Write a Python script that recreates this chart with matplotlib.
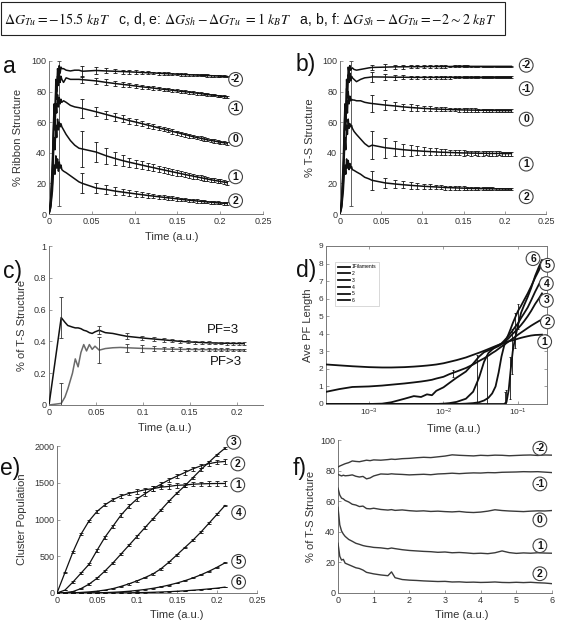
import numpy as np
import matplotlib
matplotlib.use("Agg")
import matplotlib.pyplot as plt
from matplotlib.patches import Rectangle

plt.rcParams['font.family'] = ['Liberation Sans', 'DejaVu Sans']
plt.rcParams['mathtext.fontset'] = 'stix'

W, H = 566, 621

# ---------------- panel a / b data ----------------
# early transient times and error-bar sample times
AB_T_EARLY = [0, 0.002, 0.004, 0.005, 0.006, 0.007, 0.008, 0.009, 0.010, 0.011,
              0.012, 0.013, 0.014, 0.015, 0.017, 0.020, 0.025, 0.030, 0.035]
AB_T_BAR = [0.039, 0.055, 0.067, 0.077, 0.086, 0.094, 0.102, 0.109, 0.116, 0.122,
            0.128, 0.134, 0.139, 0.144, 0.150, 0.154, 0.159, 0.164, 0.168, 0.173,
            0.177, 0.181, 0.185, 0.189, 0.193, 0.197, 0.200, 0.204, 0.208]
AB_LABELS = ['-2', '-1', '0', '1', '2']

A_EARLY_M2 = [0, 10, 35, 55, 72, 65, 88, 80, 95, 90, 97, 92, 96, 95, 95, 94, 93.5, 94, 94]
A_EARLY_M1 = [0, 8, 30, 50, 68, 60, 82, 75, 90, 84, 92, 86, 90, 88, 86, 89, 88, 88, 88]
A_EARLY_0 = [0, 6, 25, 45, 62, 55, 72, 66, 78, 70, 76, 72, 75, 73, 74, 73, 71, 70, 69.5]
A_EARLY_1 = [0, 5, 20, 35, 50, 42, 58, 50, 62, 55, 60, 57, 59, 57, 55, 52, 48, 45, 43]
A_EARLY_2 = [0, 4, 15, 25, 32, 26, 38, 30, 36, 28, 34, 30, 32, 29, 28, 27, 25, 23, 21]

A_M2 = [93.3, 93.8, 93.5, 93.3, 93.1, 92.9, 92.7, 92.5, 92.3, 92.2, 92.0, 91.8, 91.7, 91.5, 91.4,
        91.2, 91.1, 91.0, 90.9, 90.8, 90.7, 90.6, 90.5, 90.4, 90.3, 90.2, 90.1, 90.0, 89.9]
A_M1 = [87.8, 87.0, 86.0, 85.3, 84.7, 84.2, 83.6, 83.1, 82.7, 82.3, 81.9, 81.5, 81.2, 80.9, 80.5,
        80.2, 79.9, 79.6, 79.3, 79.0, 78.7, 78.4, 78.1, 77.8, 77.6, 77.3, 77.0, 76.8, 76.5]
A_0 = [69.0, 66.8, 65.0, 63.5, 62.2, 61.0, 60.0, 59.0, 58.0, 57.2, 56.3, 55.5, 54.8, 54.0, 53.2,
       52.6, 51.9, 51.2, 50.6, 50.0, 49.5, 49.0, 48.5, 48.1, 47.7, 47.3, 46.9, 46.6, 46.3]
A_1 = [42.5, 40.5, 38.0, 36.3, 34.9, 33.8, 32.8, 31.9, 31.0, 30.3, 29.5, 28.8, 28.2, 27.6, 26.9,
       26.4, 25.8, 25.2, 24.8, 24.2, 23.8, 23.3, 22.9, 22.4, 22.0, 21.6, 21.3, 20.9, 20.5]
A_2 = [20.0, 17.0, 16.0, 15.0, 14.3, 13.7, 13.1, 12.6, 12.1, 11.7, 11.3, 10.9, 10.6, 10.3, 9.9,
       9.6, 9.3, 9.0, 8.8, 8.5, 8.3, 8.1, 7.9, 7.7, 7.5, 7.3, 7.2, 7.0, 6.9]

A_ERR_M2 = [3.5, 2.0, 1.6, 1.4, 1.3, 1.2, 1.1, 1.0, 1.0, 0.9, 0.9, 0.9, 0.8, 0.8, 0.8,
            0.8, 0.8, 0.7, 0.7, 0.7, 0.7, 0.7, 0.7, 0.7, 0.6, 0.6, 0.6, 0.6, 0.6]
A_ERR_M1 = [2.5, 2.2, 2.0, 1.8, 1.6, 1.5, 1.4, 1.3, 1.2, 1.2, 1.1, 1.1, 1.0, 1.0, 1.0,
            1.0, 0.9, 0.9, 0.9, 0.9, 0.9, 0.8, 0.8, 0.8, 0.8, 0.8, 0.8, 0.8, 0.8]
A_ERR_0 = [6.0, 3.0, 2.6, 2.4, 2.2, 2.0, 1.9, 1.8, 1.7, 1.6, 1.5, 1.5, 1.4, 1.4, 1.3,
           1.3, 1.3, 1.2, 1.2, 1.2, 1.2, 1.1, 1.1, 1.1, 1.1, 1.1, 1.0, 1.0, 1.0]
A_ERR_1 = [12.0, 6.5, 5.0, 4.0, 3.5, 3.0, 2.8, 2.6, 2.4, 2.2, 2.1, 2.0, 1.9, 1.8, 1.8,
           1.7, 1.7, 1.6, 1.6, 1.5, 1.5, 1.5, 1.4, 1.4, 1.4, 1.4, 1.3, 1.3, 1.3]
A_ERR_2 = [6.5, 3.5, 3.0, 2.5, 2.2, 2.0, 1.8, 1.7, 1.6, 1.5, 1.4, 1.3, 1.3, 1.2, 1.2,
           1.1, 1.1, 1.0, 1.0, 1.0, 1.0, 0.9, 0.9, 0.9, 0.9, 0.9, 0.8, 0.8, 0.8]
A_LABEL_X = 0.218
A_LABEL_Y = [88, 69.3, 48.7, 24.3, 8.7]

B_EARLY_M2 = [0, 10, 35, 55, 72, 65, 88, 80, 96, 92, 97, 94, 95, 95.5, 94.5, 94, 94.5, 95, 95.5]
B_EARLY_M1 = [0, 8, 30, 50, 68, 60, 82, 76, 91, 86, 92, 87, 90, 89, 88, 86.5, 88, 89, 89.3]
B_EARLY_0 = [0, 6, 25, 45, 62, 55, 74, 66, 80, 72, 77, 74, 75, 74.5, 74.5, 74, 74, 73, 72.5]
B_EARLY_1 = [0, 5, 20, 35, 50, 42, 58, 52, 62, 56, 59, 57, 58, 56, 54, 52, 49, 46, 44]
B_EARLY_2 = [0, 4, 15, 25, 32, 26, 36, 30, 35, 29, 33, 30, 31, 29, 28.5, 27.5, 26, 24, 23]

B_M2 = [95.8, 96.0, 96.2, 96.2, 96.3, 96.3, 96.3, 96.4, 96.4, 96.4, 96.4, 96.4, 96.5, 96.5, 96.5,
        96.5, 96.5, 96.5, 96.5, 96.5, 96.5, 96.5, 96.5, 96.5, 96.5, 96.5, 96.5, 96.5, 96.5]
B_M1 = [89.6, 89.5, 89.4, 89.4, 89.3, 89.3, 89.3, 89.3, 89.3, 89.3, 89.3, 89.3, 89.3, 89.3, 89.3,
        89.3, 89.3, 89.3, 89.3, 89.3, 89.3, 89.3, 89.3, 89.3, 89.3, 89.3, 89.3, 89.3, 89.3]
B_0 = [72.2, 71.2, 70.6, 70.0, 69.6, 69.3, 69.0, 68.8, 68.6, 68.5, 68.4, 68.3, 68.2, 68.1, 68.0,
       68.0, 67.9, 67.9, 67.8, 67.8, 67.8, 67.7, 67.7, 67.7, 67.6, 67.6, 67.6, 67.6, 67.5]
B_1 = [45.0, 43.3, 42.6, 42.0, 41.6, 41.3, 41.0, 40.8, 40.6, 40.4, 40.3, 40.2, 40.1, 40.0, 39.9,
       39.9, 39.8, 39.8, 39.7, 39.7, 39.7, 39.6, 39.6, 39.6, 39.6, 39.5, 39.5, 39.5, 39.5]
B_2 = [22.0, 20.3, 19.6, 19.1, 18.7, 18.4, 18.1, 17.9, 17.7, 17.5, 17.3, 17.2, 17.1, 17.0, 16.9,
       16.8, 16.7, 16.7, 16.6, 16.6, 16.5, 16.5, 16.5, 16.4, 16.4, 16.4, 16.3, 16.3, 16.3]

B_ERR_M2 = [1.5, 2.2, 1.5, 1.2, 1.0, 0.9, 0.8, 0.8, 0.7, 0.7, 0.7, 0.6, 0.6, 0.6, 0.6,
            0.6, 0.5, 0.5, 0.5, 0.5, 0.5, 0.5, 0.5, 0.5, 0.5, 0.5, 0.5, 0.5, 0.5]
B_ERR_M1 = [3.3, 1.8, 1.5, 1.3, 1.2, 1.1, 1.0, 0.9, 0.9, 0.8, 0.8, 0.8, 0.7, 0.7, 0.7,
            0.7, 0.7, 0.6, 0.6, 0.6, 0.6, 0.6, 0.6, 0.6, 0.6, 0.6, 0.6, 0.6, 0.6]
B_ERR_0 = [5.4, 3.0, 2.5, 2.2, 2.0, 1.8, 1.6, 1.5, 1.4, 1.3, 1.3, 1.2, 1.2, 1.2, 1.1,
           1.1, 1.1, 1.1, 1.0, 1.0, 1.0, 1.0, 1.0, 1.0, 1.0, 1.0, 1.0, 1.0, 1.0]
B_ERR_1 = [9.2, 6.5, 5.0, 4.0, 3.4, 3.0, 2.7, 2.5, 2.3, 2.1, 2.0, 1.9, 1.8, 1.7, 1.7,
           1.6, 1.6, 1.5, 1.5, 1.5, 1.4, 1.4, 1.4, 1.4, 1.3, 1.3, 1.3, 1.3, 1.3]
B_ERR_2 = [6.0, 3.5, 2.8, 2.4, 2.1, 1.9, 1.7, 1.6, 1.5, 1.4, 1.3, 1.3, 1.2, 1.2, 1.1,
           1.1, 1.1, 1.0, 1.0, 1.0, 1.0, 1.0, 0.9, 0.9, 0.9, 0.9, 0.9, 0.9, 0.9]
B_LABEL_X = 0.226
B_LABEL_Y = [97.2, 82, 62, 32.6, 11.3]

# large error bar on the early peak (time, centre, half width)
PEAK_BAR_A = (0.0117, 52.5, 47.5)
PEAK_BAR_B = (0.0133, 52.5, 47.5)

# ---------------- panel c ----------------
C_T = [0, 0.013, 0.017, 0.02, 0.025, 0.028, 0.031, 0.034, 0.037, 0.04, 0.043, 0.046, 0.049,
       0.0535, 0.06, 0.068, 0.076, 0.083, 0.091, 0.099, 0.106, 0.112, 0.122, 0.131, 0.14,
       0.148, 0.156, 0.163, 0.17, 0.177, 0.183, 0.19, 0.196, 0.202, 0.208]
C_PF3 = [0, 0.55, 0.52, 0.50, 0.49, 0.485, 0.485, 0.48, 0.47, 0.465, 0.455, 0.45, 0.46, 0.47,
         0.455, 0.45, 0.44, 0.432, 0.427, 0.422, 0.418, 0.415, 0.41, 0.405, 0.40, 0.397, 0.395,
         0.393, 0.391, 0.39, 0.389, 0.388, 0.387, 0.387, 0.386]
C_PFG3 = [0, 0.01, 0.05, 0.10, 0.20, 0.29, 0.24, 0.33, 0.38, 0.34, 0.38, 0.35, 0.37, 0.345,
          0.355, 0.36, 0.362, 0.36, 0.358, 0.356, 0.355, 0.354, 0.352, 0.351, 0.35, 0.35, 0.349,
          0.349, 0.348, 0.348, 0.347, 0.347, 0.347, 0.346, 0.346]
nan = np.nan
C_PF3_ERR = [nan, 0.13, nan, nan, nan, nan, nan, nan, nan, nan, nan, nan, nan, 0.025,
             nan, nan, nan, 0.02, nan, 0.015, nan, 0.012, 0.012, 0.011, 0.01, 0.01, 0.01,
             0.009, 0.009, 0.009, 0.008, 0.008, 0.008, 0.008, 0.008]
C_PFG3_ERR = [nan, 0.13, nan, nan, nan, nan, nan, nan, nan, nan, nan, nan, nan, 0.08,
              nan, nan, nan, 0.025, nan, 0.02, nan, 0.015, 0.014, 0.012, 0.012, 0.011, 0.01,
              0.01, 0.01, 0.009, 0.009, 0.009, 0.008, 0.008, 0.008]

# ---------------- panel d ----------------
D_T = [2.7e-4, 4e-4, 6e-4, 1e-3, 1.5e-3, 2e-3, 3e-3, 4e-3, 5e-3, 6e-3, 7e-3, 8e-3, 1e-2,
       1.2e-2, 1.5e-2, 2e-2, 2.5e-2, 3e-2, 3.5e-2, 4e-2, 4.5e-2, 5e-2, 5.5e-2, 6e-2, 6.5e-2,
       7e-2, 7.5e-2, 8e-2, 8.5e-2, 9e-2, 0.1, 0.11, 0.12, 0.135, 0.15, 0.17, 0.19, 0.21]
D1 = [2.25, 2.2, 2.15, 2.1, 2.08, 2.08, 2.1, 2.13, 2.16, 2.19, 2.22, 2.25, 2.32, 2.4, 2.5,
      2.65, 2.8, 2.92, 3.03, 3.13, 3.22, 3.3, 3.37, 3.43, 3.48, 3.53, 3.57, 3.6, 3.63, 3.66,
      3.72, 3.77, 3.81, 3.86, 3.9, 3.93, 3.94, 3.95]
D2 = [0.7, 0.85, 0.97, 1.0, 1.05, 1.1, 1.17, 1.23, 1.28, 1.33, 1.38, 1.45, 1.55, 1.7, 1.85,
      2.05, 2.25, 2.45, 2.6, 2.75, 2.9, 3.02, 3.15, 3.27, 3.37, 3.47, 3.56, 3.65, 3.73, 3.8,
      3.95, 4.07, 4.18, 4.33, 4.46, 4.6, 4.72, 4.82]
D3 = [0, 0, 0, 0, 0.02, 0.1, 0.3, 0.45, 0.4, 0.55, 0.5, 0.75, 0.95, 1.2, 1.5, 1.85, 2.3, 2.7,
      2.95, 3.05, 3.15, 3.22, 3.3, 3.4, 3.5, 3.62, 3.75, 3.88, 4.0, 4.1, 4.3, 4.5, 4.7, 5.0,
      5.3, 5.7, 6.0, 6.3]
D4 = [0, 0, 0, 0, 0, 0, 0, 0, 0, 0, 0, 0, 0.02, 0.05, 0.12, 0.3, 0.7, 1.5, 2.4, 2.9, 3.1,
      3.25, 3.35, 3.45, 3.6, 3.75, 3.9, 4.05, 4.2, 4.35, 4.6, 4.9, 5.15, 5.5, 5.9, 6.4, 6.8, 7.15]
D5 = [0, 0, 0, 0, 0, 0, 0, 0, 0, 0, 0, 0, 0, 0, 0, 0.02, 0.05, 0.1, 0.2, 0.35, 0.6, 1.0, 1.8,
      2.7, 3.3, 3.7, 4.0, 4.3, 4.6, 4.85, 5.3, 5.6, 5.9, 6.3, 6.7, 7.2, 7.6, 8.0]
D6 = [0, 0, 0, 0, 0, 0, 0, 0, 0, 0, 0, 0, 0, 0, 0, 0, 0, 0, 0, 0, 0, 0, 0, 0, 0, 0.1, 0.8,
      2.0, 3.0, 3.6, 4.5, 5.2, 5.6, 6.1, 6.6, 7.3, 7.8, 8.2]
D_LEGEND = ['1Filaments', '2', '3', '4', '5', '6']
D_BAR_T = [0.0135, 0.028, 0.038, 0.066, 0.07, 0.078, 0.083, 0.09, 0.1]
D_BAR_Y = [1.75, 1.4, 1.4, 0.35, 0.4, 1.5, 3.0, 4.2, 5.0]
D_BAR_E = [0.2, 1.4, 1.4, 0.35, 0.4, 1.2, 1.3, 1.0, 0.7]
D_LABEL_X = [0.228, 0.248, 0.24, 0.24, 0.248, 0.159]
D_LABEL_Y = [3.55, 4.68, 5.9, 6.86, 7.9, 8.28]

# ---------------- panel e ----------------
E_T = [0, 0.01, 0.02, 0.03, 0.04, 0.05, 0.06, 0.07, 0.08, 0.09, 0.10, 0.11, 0.12, 0.13,
       0.14, 0.15, 0.16, 0.17, 0.18, 0.19, 0.20, 0.21]
E1 = [0, 280, 560, 800, 980, 1110, 1200, 1270, 1320, 1355, 1380, 1405, 1420, 1440, 1450,
      1465, 1470, 1480, 1485, 1488, 1490, 1490]
E2 = [0, 40, 150, 270, 390, 580, 760, 910, 1060, 1180, 1280, 1350, 1420, 1480, 1540, 1590,
      1640, 1690, 1730, 1760, 1780, 1790]
E3 = [0, 5, 20, 60, 120, 200, 300, 410, 530, 650, 770, 890, 1010, 1130, 1250, 1360, 1460,
      1570, 1680, 1780, 1880, 1970]
E4 = [0, 0, 2, 8, 15, 25, 40, 60, 90, 125, 165, 210, 260, 330, 420, 520, 620, 720, 830, 950,
      1070, 1190]
E5 = [0, 0, 0, 0, 1, 3, 6, 10, 16, 24, 35, 48, 64, 84, 108, 136, 168, 205, 248, 296, 350, 410]
E6 = [0, 0, 0, 0, 0, 0, 0, 1, 2, 3, 5, 7, 10, 14, 18, 24, 30, 38, 46, 56, 66, 80]
E1_ERR = [0, 10, 15, 15, 20, 20, 20, 25, 25, 25, 30, 30, 30, 30, 30, 30, 30, 30, 30, 30, 30, 30]
E2_ERR = [0, 5, 10, 15, 15, 20, 20, 20, 25, 25, 25, 25, 30, 30, 30, 30, 30, 30, 30, 30, 30, 30]
E3_ERR = [0, 2, 5, 8, 10, 12, 15, 15, 15, 15, 15, 15, 15, 15, 15, 15, 15, 15, 15, 15, 15, 15]
E4_ERR = [0, 0, 1, 2, 3, 4, 5, 6, 8, 10, 10, 10, 12, 12, 12, 12, 12, 12, 12, 12, 12, 12]
E5_ERR = [0, 0, 0, 0, 1, 1, 2, 2, 3, 3, 4, 4, 5, 5, 6, 6, 6, 7, 7, 8, 8, 8]
E6_ERR = [0, 0, 0, 0, 0, 0, 0, 1, 1, 1, 1, 2, 2, 2, 3, 3, 3, 3, 4, 4, 4, 4]
E_LABELS = ['1', '2', '3', '4', '5', '6']
E_LABEL_X = [0.226, 0.226, 0.221, 0.227, 0.227, 0.227]
E_LABEL_Y = [1470, 1756, 2050, 1095, 430, 150]

# ---------------- panel f ----------------
F_T = [0, 0.05, 0.1, 0.15, 0.2, 0.3, 0.4, 0.5, 0.6, 0.7, 0.8, 0.9, 1.0, 1.2, 1.4, 1.5, 1.6,
       1.8, 2.0, 2.2, 2.4, 2.6, 2.8, 3.0, 3.2, 3.4, 3.6, 3.8, 4.0, 4.2, 4.4, 4.6, 4.8, 5.0,
       5.2, 5.4, 5.6, 5.8, 6.0]
F_M2 = [82.3, 83.0, 83.5, 84.0, 84.5, 85.2, 86.3, 86.0, 85.8, 86.3, 86.8, 86.5, 87.0, 86.8,
        87.2, 87.5, 87.3, 87.8, 88.0, 88.4, 88.7, 88.5, 89.0, 89.5, 90.3, 90.0, 89.8, 89.6,
        90.0, 89.8, 90.1, 90.0, 89.7, 89.9, 90.1, 90.2, 89.9, 90.2, 90.1]
F_M1 = [77.5, 77.0, 76.5, 77.0, 76.6, 76.8, 77.2, 76.3, 75.8, 76.2, 74.6, 75.2, 76.5, 77.8,
        77.6, 77.9, 77.7, 77.5, 77.2, 77.4, 77.6, 77.3, 77.8, 78.0, 78.3, 78.0, 78.3, 78.5,
        78.4, 78.7, 78.6, 78.9, 79.0, 79.1, 79.3, 79.2, 79.3, 79.0, 78.7]
F_0 = [68.5, 64.0, 62.0, 61.5, 60.5, 59.5, 58.0, 57.5, 56.5, 56.8, 55.2, 55.0, 55.4, 54.6,
       54.2, 54.5, 54.0, 54.3, 53.8, 53.5, 53.7, 53.3, 53.5, 53.2, 53.0, 53.3, 52.8, 52.6,
       52.9, 53.5, 54.4, 53.9, 53.6, 53.4, 53.2, 53.5, 53.7, 53.6, 53.9]
F_1 = [56.0, 44.5, 40.5, 38.5, 37.0, 35.0, 33.8, 32.5, 31.8, 31.0, 30.5, 30.2, 29.8, 29.5,
       28.9, 29.4, 29.0, 28.3, 27.8, 27.5, 27.2, 27.0, 26.6, 26.8, 26.3, 26.5, 26.2, 25.8,
       26.0, 25.7, 26.3, 27.5, 26.4, 25.9, 26.2, 26.0, 26.3, 26.1, 26.0]
F_2 = [32.5, 24.0, 21.5, 22.0, 19.5, 18.5, 17.5, 16.5, 16.0, 15.0, 13.5, 13.0, 12.5, 11.8,
       11.3, 13.8, 10.0, 8.8, 8.4, 8.2, 7.9, 7.7, 7.5, 7.6, 7.2, 7.3, 7.0, 7.1, 6.9, 7.0, 7.2,
       6.9, 6.8, 7.0, 6.8, 7.0, 6.7, 6.5, 6.1]
F_LABEL_X = 5.66
F_LABEL_Y = [94.6, 71.3, 47.8, 30.9, 12.6]

INK = '#111111'
AXC = '#777777'
TXT = '#333333'


def add_axes_px(fig, left, top, right, bottom):
    return fig.add_axes([left / W, 1 - bottom / H, (right - left) / W, (bottom - top) / H])


def style(ax, box=False):
    ax.spines['top'].set_visible(box)
    ax.spines['right'].set_visible(box)
    for s in ax.spines.values():
        s.set_color(AXC)
        s.set_linewidth(0.7)
    ax.tick_params(direction='in', length=2, width=0.5, color=AXC, labelcolor=TXT,
                   labelsize=6.5, pad=2, top=box, right=box)
    ax.set_facecolor('white')


def circle_label(ax, x, y, s):
    ax.text(x, y, s, ha='center', va='center', fontsize=7.5, fontweight='bold', color=INK,
            bbox=dict(boxstyle='circle,pad=0.18', fc='white', ec='#444444', lw=0.8),
            clip_on=False, zorder=6)


def xlabel(ax, xpos, ypx_below):
    ax.set_xlabel('Time (a.u.)', fontsize=8, color=TXT)
    h = ax.get_position().height * H
    ax.xaxis.set_label_coords(xpos, -ypx_below / h)


def ylabel(ax, text, xpos):
    ax.set_ylabel(text, fontsize=8, color=TXT)
    ax.yaxis.set_label_coords(xpos, 0.5)


def ribbon_panel(ax, earlies, lates, errs, peak_bar, label_x, label_ys):
    for early, late, err in zip(earlies, lates, errs):
        t = np.concatenate([AB_T_EARLY, AB_T_BAR])
        y = np.concatenate([early, late])
        ax.plot(t, y, color=INK, lw=1.1, zorder=3)
        ax.errorbar(AB_T_BAR, late, yerr=err, fmt='none', ecolor=INK, elinewidth=0.6,
                    capsize=1.4, capthick=0.6, zorder=3)
    ax.errorbar([peak_bar[0]], [peak_bar[1]], yerr=[peak_bar[2]], fmt='none', ecolor='#444444',
                elinewidth=0.6, capsize=1.4, capthick=0.6)
    for lab, ly in zip(AB_LABELS, label_ys):
        circle_label(ax, label_x, ly, lab)
    ax.set_xlim(0, 0.25)
    ax.set_ylim(0, 100)
    ax.set_xticks([0, 0.05, 0.1, 0.15, 0.2, 0.25])
    ax.set_xticklabels(['0', '0.05', '0.1', '0.15', '0.2', '0.25'])
    ax.set_yticks([0, 20, 40, 60, 80, 100])


fig = plt.figure(figsize=(W / 100, H / 100), dpi=100)
fig.patch.set_facecolor('white')

# header
fig.patches.append(Rectangle((1 / W, 1 - 35 / H), 504 / W, 33 / H, transform=fig.transFigure,
                             fill=False, ec='#222222', lw=0.8))
fig.text(4 / W, 1 - 23.5 / H,
         r'$\Delta G_{Tu} = -15.5\ k_B T$   c, d, e: $\Delta G_{Sh} - \Delta G_{Tu}$ $=1\ k_B T$'
         r'   a, b, f: $\Delta G_{Sh} - \Delta G_{Tu} = -2 \sim 2\ k_B T$',
         fontsize=10.1, va='baseline', ha='left', color=INK)

# a
ax_a = add_axes_px(fig, 49, 61, 263, 214)
style(ax_a)
ribbon_panel(ax_a, [A_EARLY_M2, A_EARLY_M1, A_EARLY_0, A_EARLY_1, A_EARLY_2],
             [A_M2, A_M1, A_0, A_1, A_2],
             [A_ERR_M2, A_ERR_M1, A_ERR_0, A_ERR_1, A_ERR_2], PEAK_BAR_A, A_LABEL_X, A_LABEL_Y)
ylabel(ax_a, '% Ribbon Structure', -0.121)
xlabel(ax_a, 0.575, 18)

# b
ax_b = add_axes_px(fig, 340, 61, 546, 214)
style(ax_b)
ribbon_panel(ax_b, [B_EARLY_M2, B_EARLY_M1, B_EARLY_0, B_EARLY_1, B_EARLY_2],
             [B_M2, B_M1, B_0, B_1, B_2],
             [B_ERR_M2, B_ERR_M1, B_ERR_0, B_ERR_1, B_ERR_2], PEAK_BAR_B, B_LABEL_X, B_LABEL_Y)
ylabel(ax_b, '% T-S Structure', -0.121)

# c
ax_c = add_axes_px(fig, 49, 246, 263, 405)
style(ax_c)
ct = np.array(C_T)
for vals, errs, col in [(C_PF3, C_PF3_ERR, INK), (C_PFG3, C_PFG3_ERR, '#6a6a6a')]:
    vals = np.array(vals)
    errs = np.array(errs)
    m = ~np.isnan(errs)
    ax_c.plot(ct, vals, color=col, lw=1.1, zorder=3)
    ax_c.errorbar(ct[m], vals[m], yerr=errs[m], fmt='none', ecolor='#333333', elinewidth=0.6,
                  capsize=1.4, capthick=0.6, zorder=3)
ax_c.text(0.185, 0.47, 'PF=3', fontsize=9.5, color=INK, ha='center', va='center')
ax_c.text(0.188, 0.27, 'PF>3', fontsize=9.5, color=INK, ha='center', va='center')
ax_c.set_xlim(0, 0.228)
ax_c.set_ylim(0, 1)
ax_c.set_xticks([0, 0.05, 0.1, 0.15, 0.2])
ax_c.set_xticklabels(['0', '0.05', '0.1', '0.15', '0.2'])
ax_c.set_yticks([0, 0.2, 0.4, 0.6, 0.8, 1])
ax_c.set_yticklabels(['0', '0.2', '0.4', '0.6', '0.8', '1'])
ylabel(ax_c, '% of T-S Structure', -0.103)
xlabel(ax_c, 0.54, 18)

# d
ax_d = add_axes_px(fig, 326, 246, 547, 404)
style(ax_d, box=True)
for vals, lab in zip([D1, D2, D3, D4, D5, D6], D_LEGEND):
    ax_d.plot(D_T, vals, color=INK, lw=1.3, label=lab, zorder=3)
ax_d.errorbar(D_BAR_T, D_BAR_Y, yerr=D_BAR_E, fmt='none', ecolor=INK, elinewidth=0.6,
              capsize=1.0, capthick=0.6)
ax_d.set_xscale('log')
ax_d.set_xlim(2.65e-4, 0.245)
ax_d.set_ylim(0, 9)
ax_d.set_yticks(range(10))
ax_d.set_xticks([1e-3, 1e-2, 1e-1])
ax_d.minorticks_off()
ax_d.tick_params(labelsize=6)
leg = ax_d.legend(loc='upper left', bbox_to_anchor=(0.03, 0.915), fontsize=3.6,
                  handlelength=2.4, labelspacing=0.35, borderpad=0.5, handletextpad=0.4,
                  frameon=True, fancybox=False, edgecolor='#bbbbbb')
leg.get_frame().set_linewidth(0.5)
for lab, lx, ly in zip(E_LABELS, D_LABEL_X, D_LABEL_Y):
    circle_label(ax_d, lx, ly, lab)
ylabel(ax_d, 'Ave PF Length', -0.059)
xlabel(ax_d, 0.58, 20)

# e
ax_e = add_axes_px(fig, 57, 446, 257, 593)
style(ax_e)
for vals, errs in zip([E1, E2, E3, E4, E5, E6],
                      [E1_ERR, E2_ERR, E3_ERR, E4_ERR, E5_ERR, E6_ERR]):
    ax_e.errorbar(E_T, vals, yerr=errs, color=INK, lw=0.9, elinewidth=0.6, capsize=1.2,
                  capthick=0.6, zorder=3)
for lab, lx, ly in zip(E_LABELS, E_LABEL_X, E_LABEL_Y):
    circle_label(ax_e, lx, ly, lab)
ax_e.set_xlim(0, 0.25)
ax_e.set_ylim(0, 2000)
ax_e.set_xticks([0, 0.05, 0.1, 0.15, 0.2, 0.25])
ax_e.set_xticklabels(['0', '0.05', '0.1', '0.15', '0.2', '0.25'])
ax_e.set_yticks([0, 500, 1000, 1500, 2000])
ylabel(ax_e, 'Cluster Population', -0.15)
xlabel(ax_e, 0.6, 17)

# f
ax_f = add_axes_px(fig, 338, 440, 552, 593)
style(ax_f)
for vals in [F_M2, F_M1, F_0, F_1, F_2]:
    ax_f.plot(F_T, vals, color='#3a3a3a', lw=1.0, zorder=3)
for lab, ly in zip(AB_LABELS, F_LABEL_Y):
    circle_label(ax_f, F_LABEL_X, ly, lab)
ax_f.set_xlim(0, 6)
ax_f.set_ylim(0, 100)
ax_f.set_xticks(range(7))
ax_f.set_yticks([0, 20, 40, 60, 80, 100])
ylabel(ax_f, '% of T-S Structure', -0.102)
xlabel(ax_f, 0.58, 17)

# panel letters
for s, xpx, ypx in [('a', 3, 73), ('b)', 296, 71), ('c)', 3, 278), ('d)', 296, 277),
                    ('e)', 0, 475), ('f)', 293, 475)]:
    fig.text(xpx / W, 1 - ypx / H, s, fontsize=16.5, color=INK, ha='left', va='baseline')

fig.savefig('out.png', dpi=100, facecolor='white')
